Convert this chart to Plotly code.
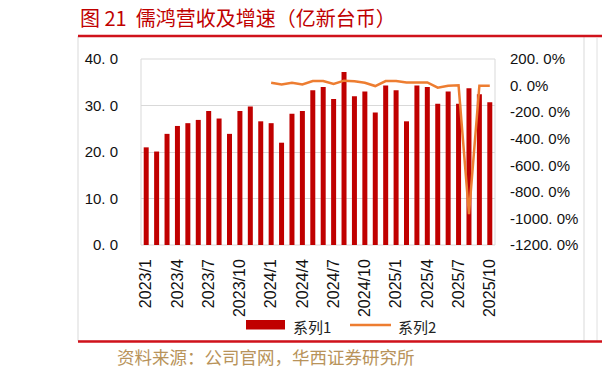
import plotly.graph_objects as go

months = [f"{y}/{m}" for y in (2023, 2024, 2025) for m in range(1, 13)][:34]
series1 = [21.0, 20.1, 23.9, 25.6, 26.2, 26.9, 28.8, 27.2, 23.9, 28.8, 29.8, 26.6,
           26.2, 22.0, 28.2, 28.8, 33.3, 34.0, 31.4, 37.2, 32.0, 33.0, 28.5, 34.3,
           33.3, 26.6, 34.3, 34.0, 30.4, 33.0, 30.4, 33.7, 32.4, 30.7]
series2_months = months[12:]
series2 = [21.6, 9.0, 21.6, 9.0, 34.0, 34.0, 11.6, 37.0, 32.0, 21.6, -3.5, 34.0,
           34.0, 24.0, 24.0, 24.0, -16.0, -1.0, 1.5, -968.0, -1.0, -1.0]
tick_months = months[::3]
left_ticks = [0, 10, 20, 30, 40]
left_labels = ["0. 0", "10. 0", "20. 0", "30. 0", "40. 0"]
right_ticks = [-1200, -1000, -800, -600, -400, -200, 0, 200]
right_labels = ["-1200. 0%", "-1000. 0%", "-800. 0%", "-600. 0%", "-400. 0%",
                "-200. 0%", "0. 0%", "200. 0%"]
legend_names = ["系列1", "系列2"]
BAR_COLOR = "#C00000"
LINE_COLOR = "#ED7D31"

W, H = 602, 374
L, R, T, B = 141, 495, 59, 245
FONT = "Liberation Sans, Arial, Noto Sans CJK SC"


def px(x):
    return (x - L) / (R - L)


def py(y):
    return (B - y) / (B - T)


fig = go.Figure()
fig.add_trace(go.Bar(x=months, y=series1, name=legend_names[0], marker_color=BAR_COLOR,
                     marker_line_width=0))
fig.add_trace(go.Scatter(x=series2_months, y=series2, name=legend_names[1], yaxis="y2",
                         mode="lines", line=dict(color=LINE_COLOR, width=2.5)))

shapes = [
    dict(type="rect", xref="paper", yref="paper", x0=px(78), x1=px(584), y0=py(341), y1=py(36),
         line=dict(color="#D9D9D9", width=1), layer="below"),
    dict(type="line", xref="paper", yref="paper", x0=px(597), x1=px(597), y0=py(341), y1=py(38),
         line=dict(color="#E0E0E0", width=1)),
    dict(type="rect", xref="paper", yref="paper", x0=0, x1=1, y0=0, y1=1,
         line=dict(color="#D9D9D9", width=1), layer="below"),
    dict(type="line", xref="paper", yref="paper", x0=px(78), x1=px(603), y0=py(36), y1=py(36),
         line=dict(color="#D0121B", width=2.5)),
    dict(type="line", xref="paper", yref="paper", x0=px(78), x1=px(603), y0=py(341.5), y1=py(341.5),
         line=dict(color="#D0121B", width=2.5)),
    # legend symbols
    dict(type="rect", xref="paper", yref="paper", x0=px(246), x1=px(285), y0=py(329.5), y1=py(320),
         fillcolor=BAR_COLOR, line=dict(width=0)),
    dict(type="line", xref="paper", yref="paper", x0=px(350), x1=px(391), y0=py(325), y1=py(325),
         line=dict(color=LINE_COLOR, width=2.5)),
]

annotations = [
    dict(text="图 21  儒鸿营收及增速（亿新台币）", xref="paper", yref="paper",
         x=px(78), y=py(18), xanchor="left", yanchor="middle", showarrow=False,
         font=dict(family="Noto Sans CJK SC", size=20, color="#C00000")),
    dict(text="资料来源：公司官网，华西证券研究所", xref="paper", yref="paper",
         x=px(115), y=py(356), xanchor="left", yanchor="middle", showarrow=False,
         font=dict(family="Noto Sans CJK SC", size=17.5, color="#B8935A")),
    dict(text=legend_names[0], xref="paper", yref="paper", x=px(291), y=py(326),
         xanchor="left", yanchor="middle", showarrow=False,
         font=dict(family="Noto Sans CJK SC", size=15, color="#222")),
    dict(text=legend_names[1], xref="paper", yref="paper", x=px(396), y=py(326),
         xanchor="left", yanchor="middle", showarrow=False,
         font=dict(family="Noto Sans CJK SC", size=15, color="#222")),
]

fig.update_layout(
    width=W, height=H,
    margin=dict(l=L, r=W - R, t=T, b=H - B, pad=0),
    paper_bgcolor="white", plot_bgcolor="white",
    bargap=0.52,
    showlegend=False,
    font=dict(family=FONT, size=14, color="#111"),
    xaxis=dict(type="category", tickmode="array", tickvals=tick_months, ticktext=tick_months,
               tickangle=-90, showgrid=False, ticks="", showline=False, ticklabelstandoff=10,
               tickfont=dict(family=FONT, size=16, color="#111"), range=[-0.5, 33.5]),
    yaxis=dict(range=[0, 40], tickmode="array", tickvals=left_ticks, ticktext=left_labels,
               showgrid=True, gridcolor="#D9D9D9", gridwidth=1, zeroline=False,
               showline=False, ticks="", ticklabelstandoff=22,
               tickfont=dict(family=FONT, size=15, color="#111")),
    yaxis2=dict(range=[-1200, 200], overlaying="y", side="right", tickmode="array",
                tickvals=right_ticks, ticktext=right_labels, showgrid=False, zeroline=False,
                showline=False, ticks="", ticklabelstandoff=14,
                tickfont=dict(family=FONT, size=15, color="#111")),
    shapes=shapes,
    annotations=annotations,
)

fig.write_html("out.html")
